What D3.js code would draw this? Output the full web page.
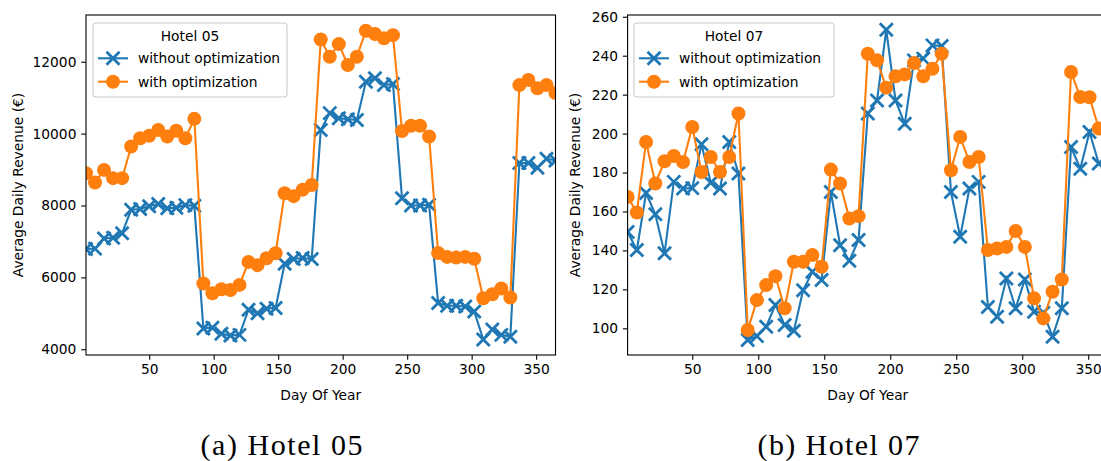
<!DOCTYPE html>
<html>
<head>
<meta charset="utf-8">
<script src="https://cdn.jsdelivr.net/npm/d3@7"></script>
<style>
    body { margin: 0; background: #fff; }
    svg { display: block; }
</style>
</head>
<body>
<div id="chart"></div>
<script>
// Weekly samples, day of year
const days = [1, 8, 15, 22, 29, 36, 43, 50, 57, 64, 71, 78, 85, 92, 99, 106, 113, 120,
    127, 134, 141, 148, 155, 162, 169, 176, 183, 190, 197, 204, 211, 218, 225, 232, 239,
    246, 253, 260, 267, 274, 281, 288, 295, 302, 309, 316, 323, 330, 337, 344, 351, 358, 365];

// Hotel 05 revenue
const hotel05Without = [6790, 6800, 7080, 7100, 7230, 7880, 7900, 7980, 8040, 7920, 7940, 8010, 7990,
    4580, 4600, 4430, 4380, 4400, 5100, 5000, 5130, 5150, 6380, 6510, 6540, 6510,
    10100, 10570, 10430, 10400, 10380, 11440, 11540, 11350, 11380, 8200, 8000, 8000, 8020,
    5290, 5210, 5210, 5190, 5050, 4270, 4550, 4400, 4350, 9180, 9180, 9050, 9300, 9250];
const hotel05With = [8900, 8640, 8990, 8760, 8760, 9640, 9870, 9940, 10100, 9920, 10080, 9870, 10410,
    5830, 5560, 5670, 5650, 5790, 6430, 6340, 6530, 6670, 8340, 8260, 8440, 8570,
    12620, 12140, 12490, 11910, 12140, 12860, 12770, 12650, 12740, 10070, 10220, 10220, 9920,
    6680, 6570, 6550, 6570, 6520, 5420, 5530, 5690, 5440, 11350, 11490, 11260, 11350, 11130];

// Hotel 07 revenue
const hotel07Without = [149.5, 140.2, 169.5, 158.6, 138.5, 175.2, 171.8, 172, 194.5, 174.7, 171.8, 195.7, 179.5,
    94, 96, 100.8, 112, 101.7, 98.8, 119.6, 129, 124.8, 170, 142.7, 134.7, 145.3,
    210.3, 217, 253.3, 217, 205, 237.6, 238.5, 245.3, 245, 170, 147, 171.8, 175.2,
    111, 106, 125.6, 110.3, 125.1, 108.5, 108, 95.7, 110.3, 193.1, 182, 200.8, 184.6, 185];
const hotel07With = [167.5, 159.5, 195.7, 174.4, 185.8, 188.5, 185.4, 203.4, 180.3, 188, 180.3, 188, 210.3,
    99.1, 114.5, 122.2, 126.8, 110.3, 134.2, 134.2, 137.6, 131.6, 181.5, 174.4, 156.4, 157.6,
    241, 237.6, 223.6, 229.4, 230.4, 236.2, 229.4, 233.3, 241, 181.2, 198.3, 185.4, 188,
    140.2, 141, 141.8, 150, 141.8, 115.4, 105.1, 118.8, 125.1, 231.6, 218.8, 218.7, 202.6, 198];

const xTicks = [50, 100, 150, 200, 250, 300, 350];
const hotel05YTicks = [4000, 6000, 8000, 10000, 12000];
const hotel07YTicks = [100, 120, 140, 160, 180, 200, 220, 240, 260];
const seriesNames = ['without optimization', 'with optimization'];

const blue = '#1f77b4';
const orange = '#ff7f0e';
const font = '"DejaVu Sans", sans-serif';
const fs = 13.8;

const svg = d3.select('#chart')
    .append('svg')
    .attr('width', 1101)
    .attr('height', 461);

drawPanel({
    id: 'h05',
    left: 86, right: 555.5, top: 15, bottom: 355,
    yDomain: [3840, 13300],
    yTicks: hotel05YTicks,
    without: hotel05Without,
    withOpt: hotel05With,
    title: 'Hotel 05',
    ylabelX: 23,
    legend: { x: 93, w: 194 },
    caption: '(a) Hotel 05', captionX: 281.5
});

drawPanel({
    id: 'h07',
    left: 627.6, right: 1108, top: 15, bottom: 355,
    yDomain: [86.3, 260.9],
    yTicks: hotel07YTicks,
    without: hotel07Without,
    withOpt: hotel07With,
    title: 'Hotel 07',
    ylabelX: 579.5,
    legend: { x: 634, w: 200 },
    caption: '(b) Hotel 07', captionX: 838.5
});

function drawPanel(p) {
    const x = d3.scaleLinear().domain([1, 365]).range([p.left, p.right]);
    const y = d3.scaleLinear().domain(p.yDomain).range([p.bottom, p.top]);
    const g = svg.append('g');

    // clip to the axes box, like matplotlib does
    svg.append('clipPath').attr('id', 'clip-' + p.id)
        .append('rect')
        .attr('x', p.left).attr('y', p.top)
        .attr('width', p.right - p.left).attr('height', p.bottom - p.top);

    const plot = g.append('g').attr('clip-path', `url(#clip-${p.id})`);

    const line = d3.line()
        .x((d, i) => x(days[i]))
        .y(d => y(d));

    // without optimization
    plot.append('path')
        .datum(p.without)
        .attr('d', line)
        .attr('fill', 'none')
        .attr('stroke', blue)
        .attr('stroke-width', 2.1);

    plot.append('g')
        .selectAll('path')
        .data(p.without)
        .join('path')
        .attr('transform', (d, i) => `translate(${x(days[i])},${y(d)})`)
        .attr('d', 'M-6.5,-6.5L6.5,6.5M-6.5,6.5L6.5,-6.5')
        .attr('stroke', blue)
        .attr('stroke-width', 2.8);

    // with optimization
    plot.append('path')
        .datum(p.withOpt)
        .attr('d', line)
        .attr('fill', 'none')
        .attr('stroke', orange)
        .attr('stroke-width', 2.1);

    plot.append('g')
        .selectAll('circle')
        .data(p.withOpt)
        .join('circle')
        .attr('cx', (d, i) => x(days[i]))
        .attr('cy', d => y(d))
        .attr('r', 7)
        .attr('fill', orange);

    // axes
    const xAxis = g.append('g')
        .attr('transform', `translate(0,${p.bottom})`)
        .call(d3.axisBottom(x).tickValues(xTicks).tickSize(4.8).tickPadding(4.2));
    const yAxis = g.append('g')
        .attr('transform', `translate(${p.left},0)`)
        .call(d3.axisLeft(y).tickValues(p.yTicks).tickSize(4.8).tickPadding(4.8).tickFormat(d3.format('d')));

    [xAxis, yAxis].forEach(a => {
        a.select('.domain').remove();
        a.selectAll('line').attr('stroke', '#000').attr('stroke-width', 1.1);
        a.selectAll('text')
            .attr('font-family', font)
            .attr('font-size', fs)
            .attr('fill', '#000');
    });

    // frame
    g.append('rect')
        .attr('x', p.left).attr('y', p.top)
        .attr('width', p.right - p.left).attr('height', p.bottom - p.top)
        .attr('fill', 'none')
        .attr('stroke', '#000')
        .attr('stroke-width', 1.1);

    // axis labels
    g.append('text')
        .attr('x', (p.left + p.right) / 2)
        .attr('y', 399.5)
        .attr('text-anchor', 'middle')
        .attr('font-family', font)
        .attr('font-size', fs)
        .text('Day Of Year');

    g.append('text')
        .attr('transform', `translate(${p.ylabelX},${(p.top + p.bottom) / 2}) rotate(-90)`)
        .attr('text-anchor', 'middle')
        .attr('font-family', font)
        .attr('font-size', fs)
        .text('Average Daily Revenue (€)');

    // legend
    const lg = g.append('g');
    lg.append('rect')
        .attr('x', p.legend.x).attr('y', 23)
        .attr('width', p.legend.w).attr('height', 74)
        .attr('rx', 3)
        .attr('fill', '#fff').attr('fill-opacity', 0.8)
        .attr('stroke', '#ccc').attr('stroke-width', 1.1);

    lg.append('text')
        .attr('x', p.legend.x + p.legend.w / 2)
        .attr('y', 41)
        .attr('text-anchor', 'middle')
        .attr('font-family', font)
        .attr('font-size', fs)
        .text(p.title);

    seriesNames.forEach((name, i) => {
        const ry = 58.3 + i * 23.4;
        const lx = p.legend.x + 5;
        lg.append('line')
            .attr('x1', lx).attr('x2', lx + 30)
            .attr('y1', ry).attr('y2', ry)
            .attr('stroke', i === 0 ? blue : orange)
            .attr('stroke-width', 2.1);
        if (i === 0) {
            lg.append('path')
                .attr('transform', `translate(${lx + 15},${ry})`)
                .attr('d', 'M-6.5,-6.5L6.5,6.5M-6.5,6.5L6.5,-6.5')
                .attr('stroke', blue)
                .attr('stroke-width', 2.8);
        } else {
            lg.append('circle')
                .attr('cx', lx + 15).attr('cy', ry).attr('r', 7)
                .attr('fill', orange);
        }
        lg.append('text')
            .attr('x', lx + 40)
            .attr('y', ry + 5)
            .attr('font-family', font)
            .attr('font-size', fs)
            .text(name);
    });

    // subfigure caption
    svg.append('text')
        .attr('x', p.captionX)
        .attr('y', 455)
        .attr('text-anchor', 'middle')
        .attr('font-family', '"Liberation Serif", serif')
        .attr('font-size', 30)
        .attr('textLength', 162)
        .attr('lengthAdjust', 'spacing')
        .text(p.caption);
}
</script>
</body>
</html>
